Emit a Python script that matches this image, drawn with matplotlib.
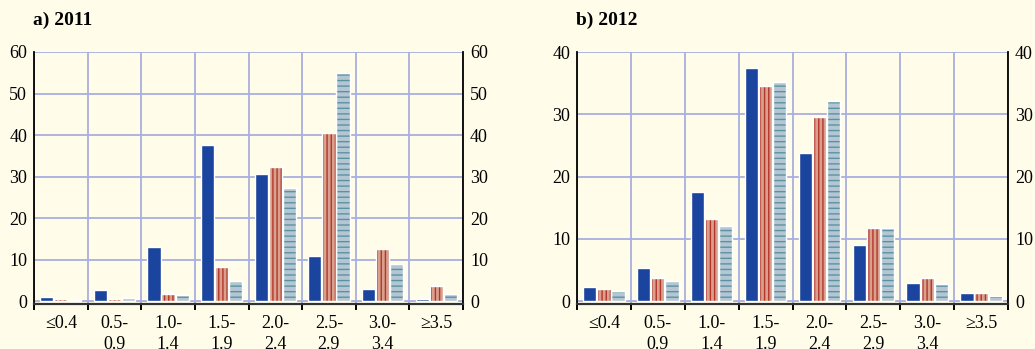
import numpy as np
import matplotlib
matplotlib.use("Agg")
import matplotlib.pyplot as plt

plt.rcParams["font.family"] = ["Liberation Serif", "DejaVu Serif"]
plt.rcParams["hatch.linewidth"] = 1.0

# Size classes shared by both panels
categories = ["≤0.4", "0.5-\n0.9", "1.0-\n1.4", "1.5-\n1.9", "2.0-\n2.4",
              "2.5-\n2.9", "3.0-\n3.4", "≥3.5"]

# 2011 shares per class (%)
blue_2011 = [1.0, 2.7, 13.0, 37.5, 30.5, 10.8, 2.8, 0.6]
red_2011 = [0.4, 0.5, 1.8, 8.3, 32.2, 40.5, 12.5, 3.5]
grey_2011 = [0.2, 0.7, 1.5, 4.8, 27.3, 54.9, 9.0, 1.8]

# 2012 shares per class (%)
blue_2012 = [2.25, 5.35, 17.5, 37.5, 23.85, 9.0, 2.95, 1.25]
red_2012 = [2.0, 3.75, 13.15, 34.5, 29.5, 11.8, 3.65, 1.35]
grey_2012 = [1.65, 3.2, 12.1, 35.2, 32.1, 11.8, 2.7, 0.75]

yticks_2011 = [0, 10, 20, 30, 40, 50, 60]
yticks_2012 = [0, 10, 20, 30, 40]

BG = "#FFFDE9"
GRID = "#A9AFE0"
BLUE = "#1A449E"
RED_FILL = "#D9A08E"
RED_LINE = "#B2362A"
GREY_FILL = "#B4C6D2"
GREY_LINE = "#5A92A4"

fig = plt.figure(figsize=(10.35, 3.49), dpi=100, facecolor=BG)

W, H = 1035, 349


def panel(left_px, right_px, title, series, yticks):
    y_top, y_bot = 52, 303.5
    ax = fig.add_axes([left_px / W, 1 - y_bot / H,
                       (right_px - left_px) / W, (y_bot - y_top) / H])
    ax.set_facecolor(BG)
    n = len(categories)
    centers = np.arange(n) + 0.5
    ymax = yticks[-1]
    px_per_unit = (y_bot - y_top) / ymax
    ax.set_xlim(0, n)
    ax.set_ylim(-2.5 / px_per_unit, ymax)

    width = 0.245
    offsets = [-0.262, 0.0, 0.262]
    styles = [(BLUE, None, BLUE), (RED_FILL, "||||", RED_LINE),
              (GREY_FILL, "---", GREY_LINE)]
    for vals, off, (fc, hatch, hc) in zip(series, offsets, styles):
        ax.bar(centers + off, vals, width, color=fc, hatch=hatch,
               edgecolor=hc, linewidth=0, zorder=2)
        ax.bar(centers + off, vals, width, fill=False, edgecolor="white",
               linewidth=1.0, zorder=3)

    # grid at class boundaries and value ticks
    ax.set_xticks(np.arange(n + 1))
    ax.set_xticklabels([])
    ax.set_xticks(centers, categories, minor=True)
    ax.set_yticks(yticks)
    ax.grid(True, which="major", color=GRID, linewidth=1.3, zorder=0)
    ax.set_axisbelow(True)

    ax.tick_params(axis="x", which="major", direction="out", length=4.5,
                   width=1.4, color="black")
    ax.tick_params(axis="x", which="minor", length=0, pad=8,
                   labelsize=13)
    for lab in ax.get_xticklabels(minor=True):
        lab.set_linespacing(1.3)
    ax.tick_params(axis="y", length=0, labelsize=13, pad=5,
                   labelleft=True, labelright=True, right=False)

    for side in ("left", "right"):
        ax.spines[side].set_color("black")
        ax.spines[side].set_linewidth(1.3)
    ax.spines["bottom"].set_color("#333333")
    ax.spines["bottom"].set_linewidth(1.6)
    ax.spines["top"].set_visible(False)

    fig.text(left_px / W - 0.001, 1 - 20 / H, title, fontsize=14,
             fontweight="bold", va="center", ha="left")
    return ax


panel(34, 463, "a) 2011", [blue_2011, red_2011, grey_2011], yticks_2011)
panel(577, 1008, "b) 2012", [blue_2012, red_2012, grey_2012], yticks_2012)

fig.savefig("out.png", dpi=100, facecolor=BG)
